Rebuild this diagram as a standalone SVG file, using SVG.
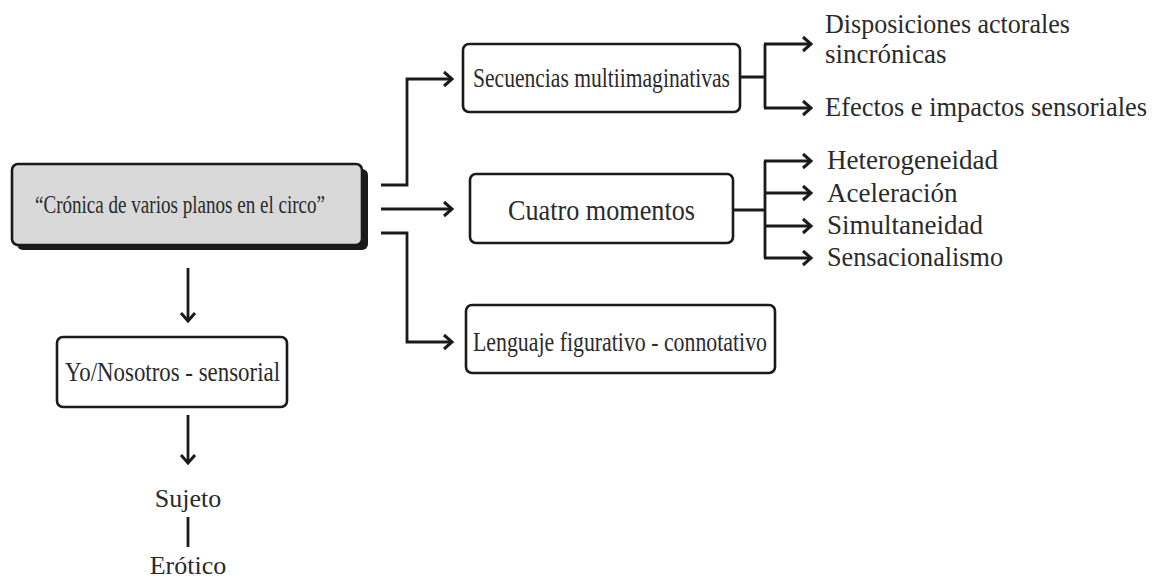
<svg xmlns="http://www.w3.org/2000/svg" width="1157" height="578" viewBox="0 0 1157 578">
<defs>
<marker id="arr" markerUnits="userSpaceOnUse" markerWidth="20" markerHeight="20" refX="10" refY="10" orient="auto" viewBox="0 0 20 20">
<path d="M2,3 L10,10 L2,17" fill="none" stroke="#1a1a1a" stroke-width="3" stroke-linejoin="miter"/>
</marker>
</defs>
<style>
.box{fill:#fff;stroke:#1a1a1a;stroke-width:2.6}
.t{font-family:"Liberation Serif","Times New Roman",serif;fill:#2a2a2a}
.c{stroke:#1a1a1a;stroke-width:2.8;fill:none}
.a{marker-end:url(#arr)}
</style>
<rect width="1157" height="578" fill="#fff"/>
<g id="main">
<rect x="17" y="169" width="351" height="81" rx="6" fill="#1a1a1a"/>
<rect x="12" y="164" width="350" height="81" rx="6" fill="#d9d9d9" stroke="#1a1a1a" stroke-width="2.6"/>
<text class="t" x="35" y="213" font-size="26" textLength="290" lengthAdjust="spacingAndGlyphs">“Crónica de varios planos en el circo”</text>
</g>
<g id="secuencias">
<rect class="box" x="463" y="44" width="277" height="68" rx="6"/>
<text class="t" x="473" y="87" font-size="28" textLength="257" lengthAdjust="spacingAndGlyphs">Secuencias multiimaginativas</text>
</g>
<g id="cuatro">
<rect class="box" x="470" y="174" width="263" height="69" rx="6"/>
<text class="t" x="508" y="220" font-size="29" textLength="187" lengthAdjust="spacingAndGlyphs">Cuatro momentos</text>
</g>
<g id="lenguaje">
<rect class="box" x="466" y="305" width="309" height="68" rx="6"/>
<text class="t" x="473" y="351" font-size="28" textLength="294" lengthAdjust="spacingAndGlyphs">Lenguaje figurativo - connotativo</text>
</g>
<g id="yo">
<rect class="box" x="57" y="337" width="230" height="70" rx="6"/>
<text class="t" x="65" y="381" font-size="27" textLength="215" lengthAdjust="spacingAndGlyphs">Yo/Nosotros - sensorial</text>
</g>
<g id="disposiciones">
<text class="t" x="825" y="33" font-size="27" textLength="245" lengthAdjust="spacingAndGlyphs">Disposiciones actorales</text>
<text class="t" x="825" y="63" font-size="27">sincrónicas</text>
</g>
<g id="efectos"><text class="t" x="825" y="116" font-size="27" textLength="322" lengthAdjust="spacingAndGlyphs">Efectos e impactos sensoriales</text></g>
<g id="heterogeneidad"><text class="t" x="827" y="169" font-size="27">Heterogeneidad</text></g>
<g id="aceleracion"><text class="t" x="827" y="202" font-size="27">Aceleración</text></g>
<g id="simultaneidad"><text class="t" x="827" y="234" font-size="27">Simultaneidad</text></g>
<g id="sensacionalismo"><text class="t" x="827" y="266" font-size="27" textLength="176" lengthAdjust="spacingAndGlyphs">Sensacionalismo</text></g>
<g id="sujeto"><text class="t" x="188" y="507" font-size="26" text-anchor="middle">Sujeto</text></g>
<g id="erotico"><text class="t" x="188" y="574" font-size="26" text-anchor="middle">Erótico</text></g>
<g id="connectors">
<path class="c a" d="M381,185 H407 V79 H452"/>
<path class="c a" d="M381,209 H452"/>
<path class="c a" d="M381,233 H407 V342 H452"/>
<path class="c" d="M740,77 H765 M765,44 V108"/>
<path class="c a" d="M764,44 H811"/>
<path class="c a" d="M764,108 H811"/>
<path class="c" d="M733,210 H765 M765,161 V258"/>
<path class="c a" d="M764,161 H811"/>
<path class="c a" d="M764,193 H811"/>
<path class="c a" d="M764,226 H811"/>
<path class="c a" d="M764,258 H811"/>
<path class="c a" d="M188,268 V321"/>
<path class="c a" d="M188,415 V463"/>
<path class="c" d="M188,517 V547"/>
</g>
</svg>
